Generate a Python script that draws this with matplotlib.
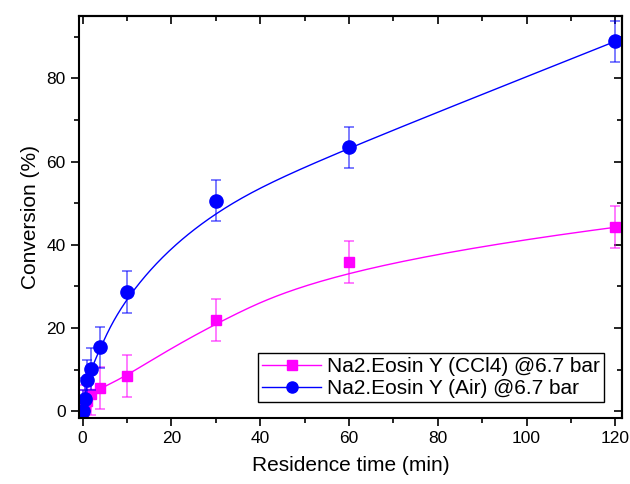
import numpy as np
import matplotlib
matplotlib.use("Agg")
import matplotlib.pyplot as plt

plt.rcParams['font.family'] = ['Liberation Sans', 'DejaVu Sans']

# residence time (min)
t_ccl4 = [0, 0.5, 1, 2, 4, 10, 30, 60, 120]
conv_ccl4 = [0, 1.2, 2.5, 4.0, 5.5, 8.4, 21.9, 35.8, 44.2]
err_ccl4 = [5, 5, 5, 5, 5, 5, 5, 5, 5]

t_air = [0, 0.5, 1, 2, 4, 10, 30, 60, 120]
conv_air = [0, 3.0, 7.4, 10.1, 15.3, 28.7, 50.6, 63.4, 88.9]
err_air = [5, 5, 5, 5, 5, 5, 5, 5, 5]

label_ccl4 = "Na2.Eosin Y (CCl4) @6.7 bar"
label_air = "Na2.Eosin Y (Air) @6.7 bar"


def bspline(xs, ys, n=400, k=3):
    # clamped B-spline with the data points as control points (Origin "B-Spline" connect)
    P = np.column_stack([xs, ys]).astype(float)
    m = len(P)
    inner = np.linspace(0, 1, m - k + 1)
    knots = np.concatenate([np.zeros(k), inner, np.ones(k)])
    out = []
    for u in np.linspace(0, 1, n):
        if u >= 1:
            out.append(P[-1])
            continue
        j = np.searchsorted(knots, u, side='right') - 1
        d = [P[j - k + i].copy() for i in range(k + 1)]
        for r in range(1, k + 1):
            for i in range(k, r - 1, -1):
                a = (u - knots[i + j - k]) / (knots[i + 1 + j - r] - knots[i + j - k])
                d[i] = (1 - a) * d[i - 1] + a * d[i]
        out.append(d[k])
    out = np.array(out)
    return out[:, 0], out[:, 1]


fig = plt.figure(figsize=(6.3, 4.84), dpi=100)
ax = fig.add_axes([0.1254, 0.136, 0.8619, 0.831])

mag = '#ff00ff'
blu = '#0000ff'

ax.errorbar(t_ccl4, conv_ccl4, yerr=err_ccl4, fmt='none', ecolor=mag, alpha=0.6,
            elinewidth=1.2, capsize=3.5, capthick=1.2)
bx, by = bspline(t_ccl4, conv_ccl4)
ax.plot(bx, by, color=mag, lw=1)
ax.plot(t_ccl4, conv_ccl4, 's', color=mag, ms=7.5)
ax.plot([], [], '-s', color=mag, ms=7.5, lw=1, label=label_ccl4)

ax.errorbar(t_air, conv_air, yerr=err_air, fmt='none', ecolor=blu, alpha=0.6,
            elinewidth=1.2, capsize=3.5, capthick=1.2)
bx, by = bspline(t_air, conv_air)
ax.plot(bx, by, color=blu, lw=1)
ax.plot(t_air, conv_air, 'o', color=blu, ms=9.5)
ax.plot([], [], '-o', color=blu, ms=8, lw=1, label=label_air)

ax.set_xlim(-0.8, 121.5)
ax.set_ylim(-1.7, 95)
ax.set_xticks(np.arange(0, 121, 20))
ax.set_xticks(np.arange(0, 121, 10), minor=True)
ax.set_yticks(np.arange(0, 81, 20))
ax.set_yticks(np.arange(0, 91, 10), minor=True)

for s in ax.spines.values():
    s.set_linewidth(1.5)
ax.tick_params(which='both', direction='out', width=1.2, labelsize=12.5, colors='black')
ax.tick_params(which='major', length=6)
ax.tick_params(which='minor', length=3.5)

top = ax.secondary_xaxis('top')
top.set_xticks(np.arange(0, 121, 20))
top.set_xticks(np.arange(0, 121, 10), minor=True)
top.tick_params(which='both', direction='in', width=1.2, labeltop=False)
top.tick_params(which='major', length=6)
top.tick_params(which='minor', length=3.5)
right = ax.secondary_yaxis('right')
right.set_yticks(np.arange(0, 81, 20))
right.set_yticks(np.arange(0, 91, 10), minor=True)
right.tick_params(which='both', direction='in', width=1.2, labelright=False)
right.tick_params(which='major', length=6)
right.tick_params(which='minor', length=3.5)
top.spines['top'].set_linewidth(1.5)
right.spines['right'].set_linewidth(1.5)

ax.set_xlabel("Residence time (min)", fontsize=15, labelpad=7)
ax.set_ylabel("Conversion (%)", fontsize=15, labelpad=5)

leg = ax.legend(loc='lower right', bbox_to_anchor=(0.967, 0.04), fontsize=15,
                fancybox=False, edgecolor='black', framealpha=1, borderpad=0.2,
                handlelength=2.8, handletextpad=0.3, labelspacing=0.12, borderaxespad=0)
leg.get_frame().set_linewidth(1)

fig.savefig("out.png", dpi=100)
